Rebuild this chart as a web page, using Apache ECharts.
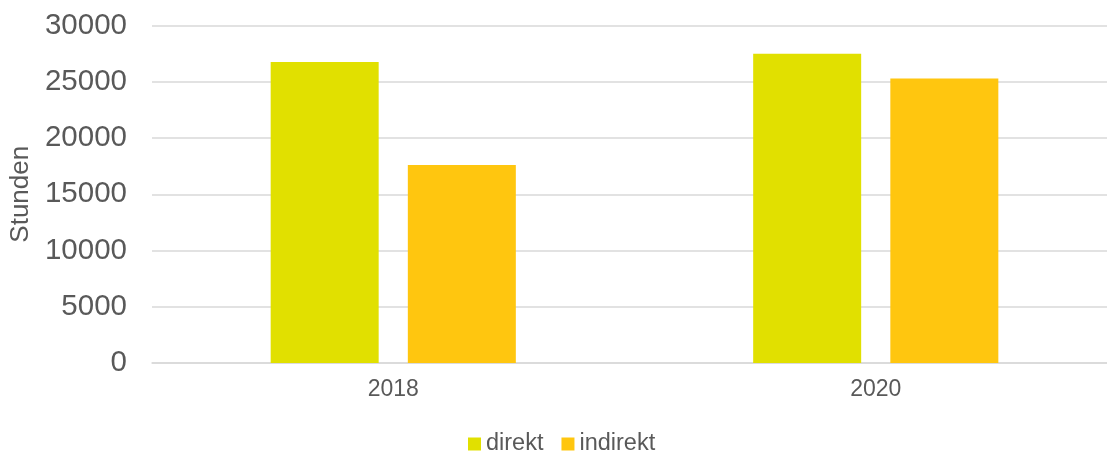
<!DOCTYPE html>
<html>
<head>
<meta charset="utf-8">
<script src="https://cdn.jsdelivr.net/npm/echarts@6/dist/echarts.min.js"></script>
<style>
  html, body { margin: 0; padding: 0; background: #fff; }
  #chart { width: 1107px; height: 452px; }
</style>
</head>
<body>
<div id="chart"></div>
<script>
// data
var years = ["2018", "2020"];
var direkt = [26750, 27500];
var indirekt = [17600, 25300];
var seriesNames = ["direkt", "indirekt"];

var myChart = echarts.init(document.getElementById("chart"));

myChart.setOption({
  animation: false,
  textStyle: { fontFamily: "Liberation Sans, Arial, sans-serif" },
  grid: {
    left: 152,
    top: 25.5,
    bottom: 89,
    width: 965,
    containLabel: false,
    outerBoundsMode: "none"
  },
  legend: {
    data: seriesNames,
    left: 463,
    top: 427,
    icon: "rect",
    itemWidth: 13,
    itemHeight: 13,
    itemGap: 18,
    textStyle: { color: "#595959", fontSize: 23.5 }
  },
  xAxis: {
    type: "category",
    data: years,
    axisLine: { lineStyle: { color: "#d9d9d9", width: 1.5 } },
    axisTick: { show: false },
    axisLabel: { color: "#595959", fontSize: 23, margin: 15 }
  },
  yAxis: {
    type: "value",
    min: 0,
    max: 30000,
    interval: 5000,
    name: "Stunden",
    nameLocation: "middle",
    nameGap: 117,
    nameTextStyle: { color: "#595959", fontSize: 26 },
    axisLine: { show: false },
    axisTick: { show: false },
    axisLabel: {
      color: "#595959",
      fontSize: 29.5,
      margin: 25,
      formatter: function (v) { return String(v); }
    },
    splitLine: { lineStyle: { color: "#d9d9d9", width: 1.5 } }
  },
  series: [
    {
      name: seriesNames[0],
      type: "bar",
      data: direkt,
      barWidth: 108,
      barGap: "27%",
      itemStyle: { color: "#e1e000" }
    },
    {
      name: seriesNames[1],
      type: "bar",
      data: indirekt,
      barWidth: 108,
      barGap: "27%",
      itemStyle: { color: "#ffc60f" }
    }
  ]
});
</script>
</body>
</html>
